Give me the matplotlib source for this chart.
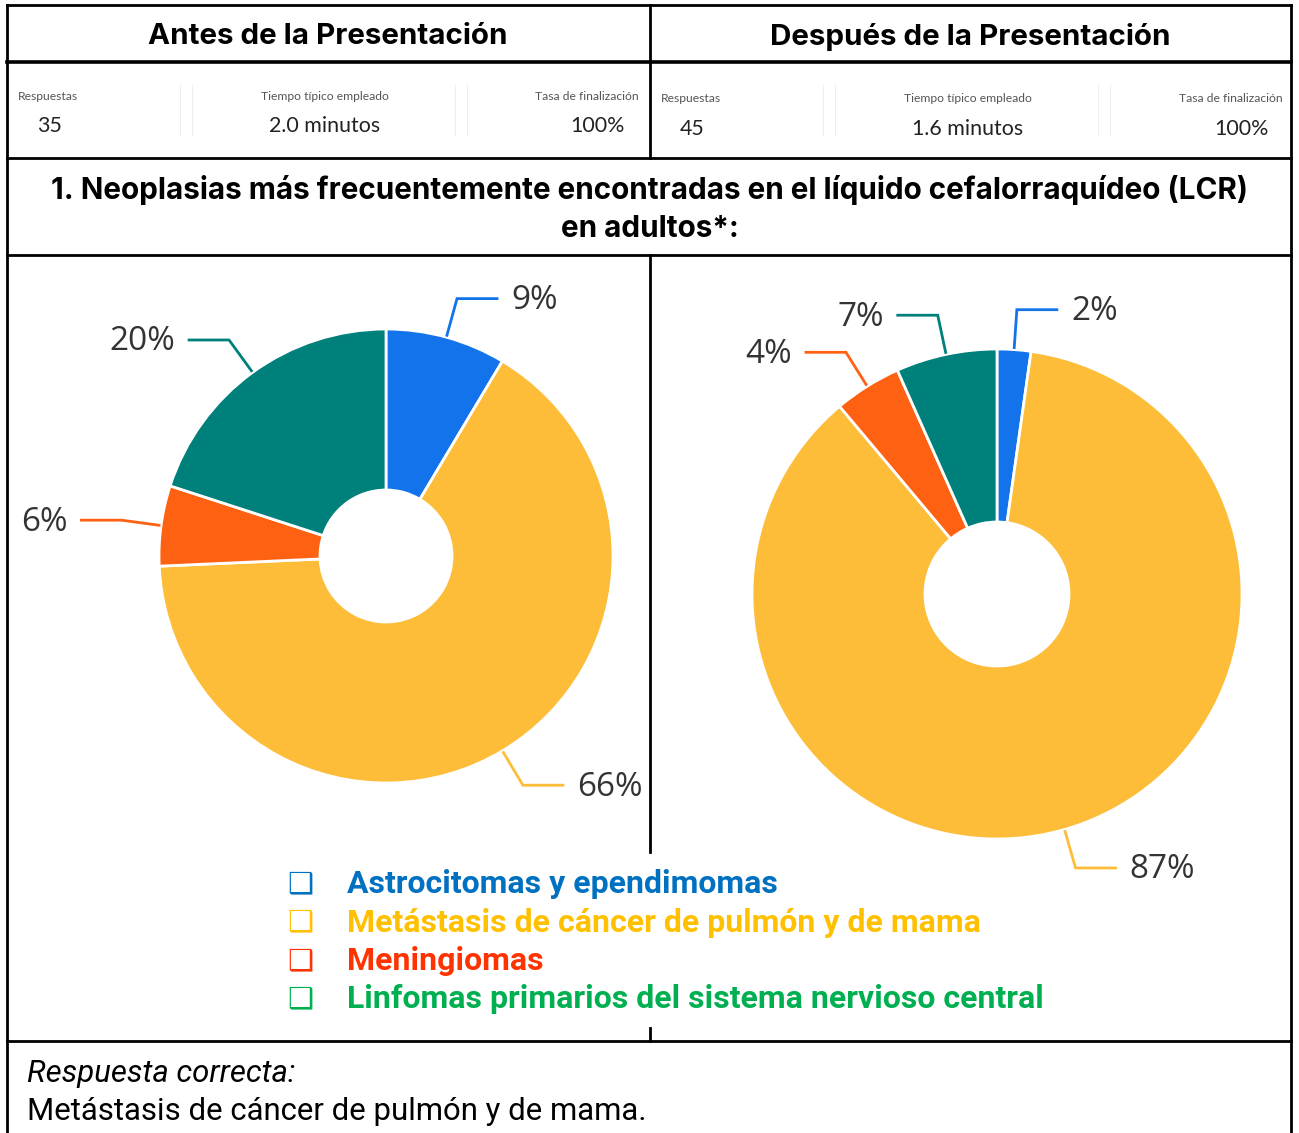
import numpy as np
import matplotlib.pyplot as plt

W, H = 1299, 1133

# Datos
categorias = ['Astrocitomas y ependimomas',
              'Metástasis de cáncer de pulmón y de mama',
              'Meningiomas',
              'Linfomas primarios del sistema nervioso central']
antes = [3, 23, 2, 7]        # 35 respuestas
despues = [1, 39, 2, 3]      # 45 respuestas
stats_antes = ['35', '2.0 minutos', '100%']
stats_despues = ['45', '1.6 minutos', '100%']
stats_titulos = ['Respuestas', 'Tiempo típico empleado', 'Tasa de finalización']

colores_pie = ['#1273eb', '#fdbd39', '#ff6113', '#00807b']
colores_leyenda = ['#0070c0', '#ffc000', '#ff3300', '#00b050']
gris = '#333333'


def Y(y):
    return H - y


fig = plt.figure(figsize=(W / 100, H / 100), dpi=100)
ax = fig.add_axes([0, 0, 1, 1])

# Bordes de la tabla
lw = 2
for y in [5, 62, 158, 255, 1041]:
    ax.plot([7, 1291], [Y(y), Y(y)], color='black', lw=lw if y != 62 else 2.6)
ax.plot([7, 7], [Y(5), Y(1133)], color='black', lw=lw)
ax.plot([1291, 1291], [Y(5), Y(1133)], color='black', lw=lw)
ax.plot([650, 650], [Y(5), Y(158)], color='black', lw=lw)
ax.plot([650, 650], [Y(255), Y(852)], color='black', lw=lw)
ax.plot([650, 650], [Y(1028), Y(1041)], color='black', lw=lw)

# Encabezados
ax.text(328, Y(37), 'Antes de la Presentación', ha='center', va='center',
        fontsize=21.3, fontweight='bold', family='Inter')
ax.text(970, Y(37), 'Después de la Presentación', ha='center', va='center',
        fontsize=21.3, fontweight='bold', family='Inter')

# Estadísticas
def estadisticas(x0, x1, ytit, yval, valores):
    ax.text(x0 + 11, Y(ytit), stats_titulos[0], ha='left', va='center',
            fontsize=8.7, color='#555555', family='Lato')
    ax.text(x0 + 30, Y(yval), valores[0], ha='left', va='center',
            fontsize=15.4, color='#222222', family='Lato')
    xm = (x0 + x1) / 2 - 3
    ax.text(xm, Y(ytit), stats_titulos[1], ha='center', va='center',
            fontsize=8.7, color='#555555', family='Lato')
    ax.text(xm, Y(yval), valores[1], ha='center', va='center',
            fontsize=15.4, color='#222222', family='Lato')
    ax.text(x1 - 9, Y(ytit), stats_titulos[2], ha='right', va='center',
            fontsize=8.7, color='#555555', family='Lato')
    ax.text(x1 - 23, Y(yval), valores[2], ha='right', va='center',
            fontsize=15.4, color='#222222', family='Lato')
    for xs in [x0 + 173, x0 + 185, x0 + 448, x0 + 460]:
        ax.plot([xs, xs], [Y(85), Y(135)], color='#eeeeee', lw=0.8)


estadisticas(7, 648, 96, 126, stats_antes)
estadisticas(650, 1292, 99, 129, stats_despues)

# Título de la pregunta
ax.text(650, Y(190), '1. Neoplasias más frecuentemente encontradas en el líquido cefalorraquídeo (LCR)',
        ha='center', va='center', fontsize=21.4, fontweight='bold', family='Inter')
ax.text(650, Y(229), 'en adultos*:', ha='center', va='center',
        fontsize=21.4, fontweight='bold', family='Inter')


# Gráficos de anillo
def anillo(valores, cx, cy, r, r_in):
    ax.pie(valores, colors=colores_pie, startangle=90, counterclock=False,
           radius=r, center=(cx, Y(cy)), frame=True,
           wedgeprops=dict(width=r - r_in, edgecolor='white', linewidth=2))
    total = sum(valores)
    acum = 0
    for v, c in zip(valores, colores_pie):
        ang = np.deg2rad(90 - 360 * (acum + v / 2) / total)
        acum += v
        ux, uy = np.cos(ang), np.sin(ang)
        p1 = (cx + (r + 2) * ux, Y(cy) + (r + 2) * uy)
        p2 = (cx + (r + 40) * ux, Y(cy) + (r + 40) * uy)
        s = 1 if ux >= 0 else -1
        p3 = (p2[0] + s * 40, p2[1])
        ax.plot([p1[0], p2[0], p3[0]], [p1[1], p2[1], p3[1]], color=c, lw=2,
                solid_joinstyle='miter')
        ax.text(p3[0] + s * 14, p3[1] - 2, f'{round(v / total * 100)}%',
                ha='left' if s > 0 else 'right', va='center',
                fontsize=24, color=gris, family='Open Sans')


anillo(antes, 386, 556, 227, 66)
anillo(despues, 997, 594, 245, 72)

# Leyenda
for i, (cat, col) in enumerate(zip(categorias, colores_leyenda)):
    y = Y(884 + i * 38.5)
    ax.text(300, y, '❑', ha='center', va='center', fontsize=21, color=col,
            fontweight='bold', family='DejaVu Sans')
    ax.text(347, y, cat, ha='left', va='center', fontsize=23,
            fontweight='bold', color=col, family='Roboto')

# Respuesta correcta
ax.text(27, Y(1073), 'Respuesta correcta:', ha='left', va='center',
        fontsize=22.4, style='italic', family='Roboto')
ax.text(27, Y(1111), 'Metástasis de cáncer de pulmón y de mama.', ha='left',
        va='center', fontsize=22.4, family='Roboto')

ax.set_xlim(0, W)
ax.set_ylim(0, H)
ax.set_aspect('auto')
ax.axis('off')

plt.savefig('out.png', dpi=100)
